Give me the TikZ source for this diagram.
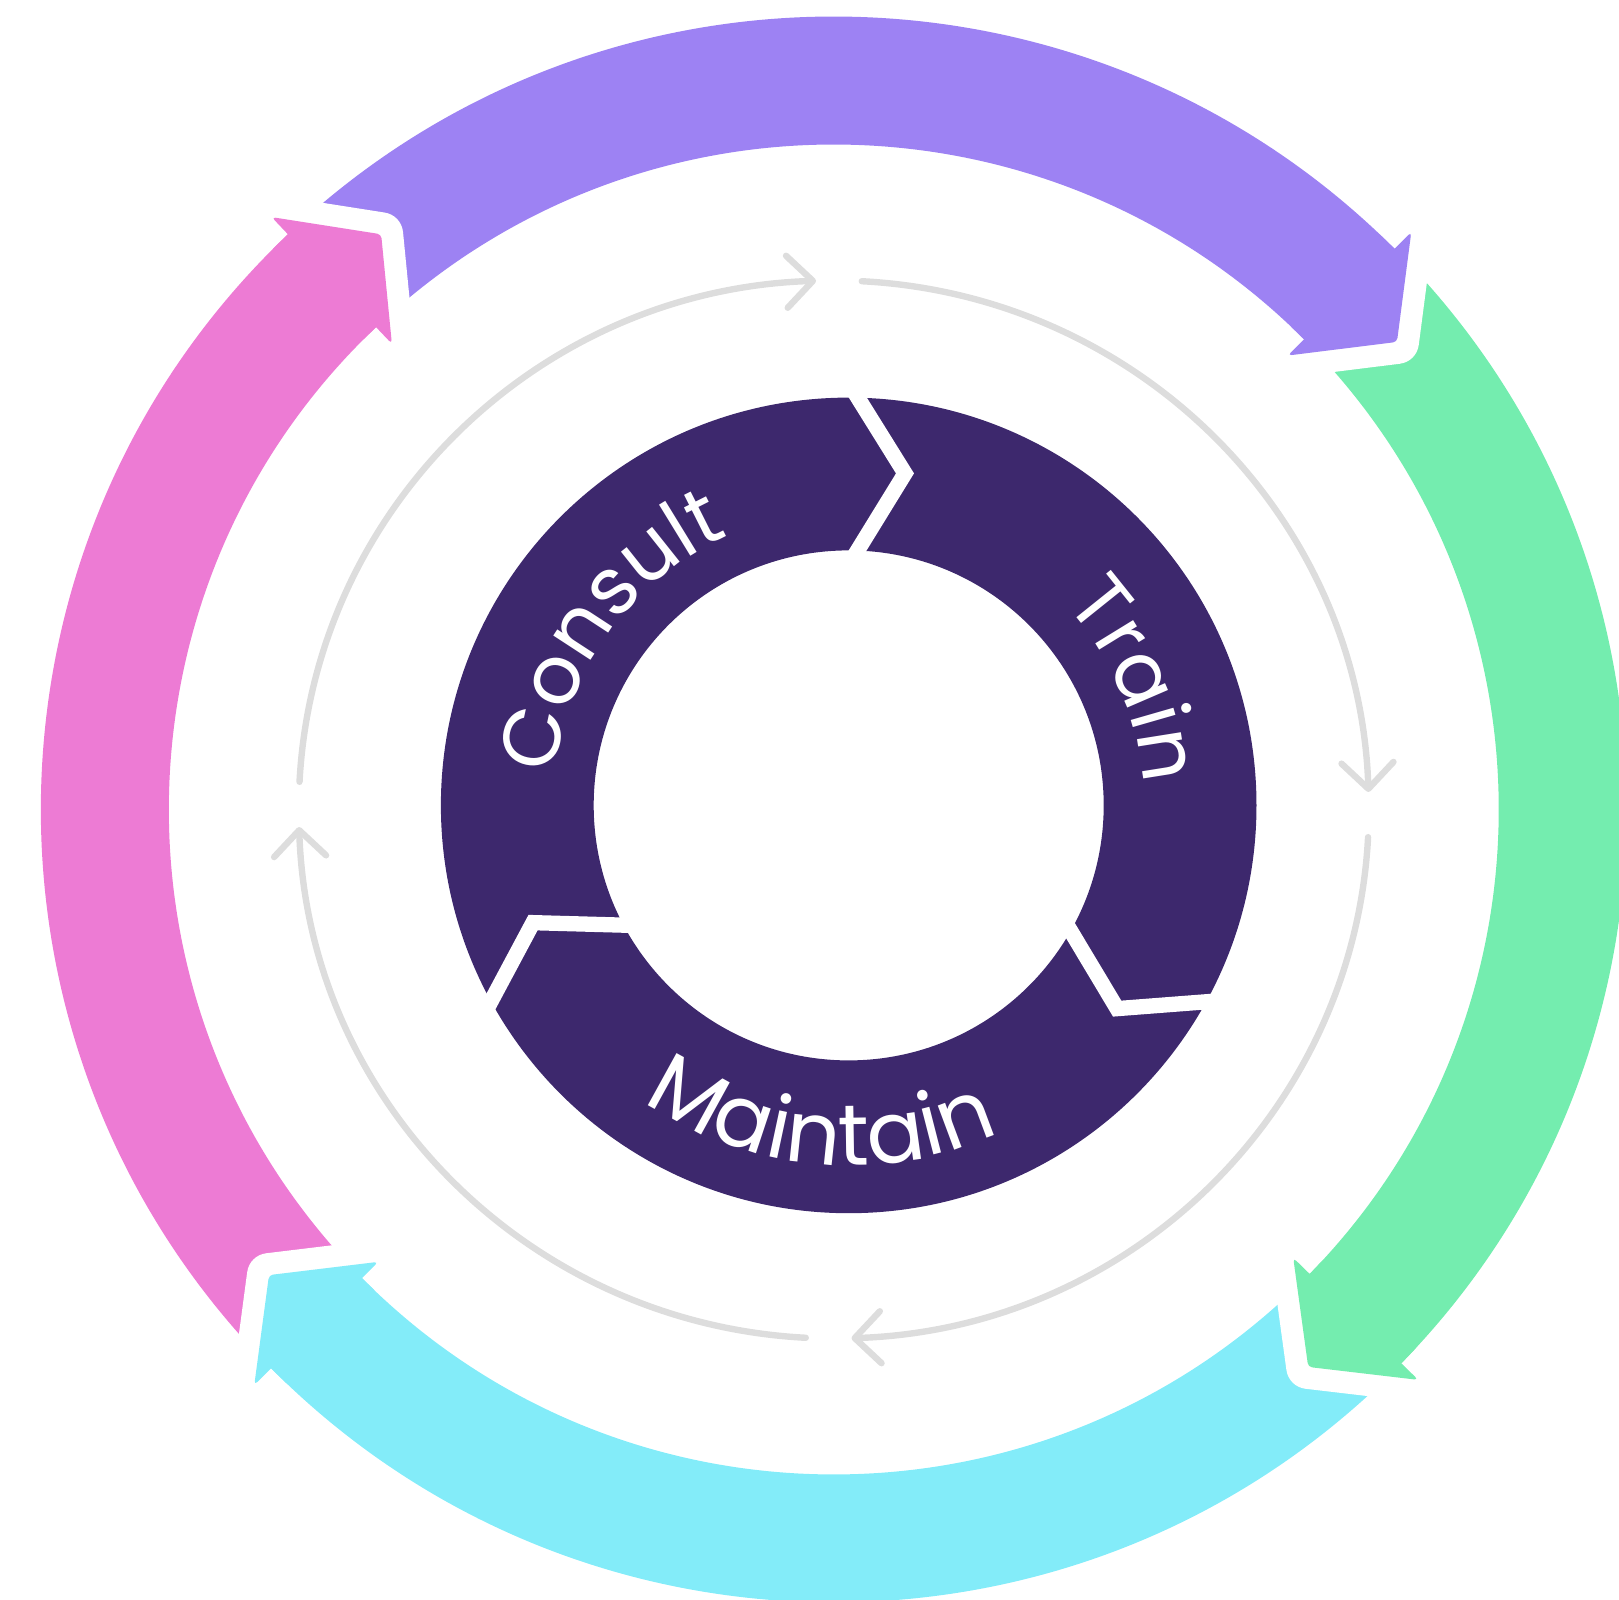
\documentclass[tikz,border=0pt]{standalone}
\usepackage{fontspec}
\setmainfont{Poppins}
\usetikzlibrary{arrows.meta,decorations.text}
\definecolor{arrowpurple}{HTML}{9D82F3}
\definecolor{arrowgreen}{HTML}{74EDAF}
\definecolor{arrowcyan}{HTML}{83ECF9}
\definecolor{arrowpink}{HTML}{ED7BD4}
\definecolor{ringpurple}{HTML}{3D286D}
\definecolor{linegray}{HTML}{DDDDDD}
\newcommand\ringfont{\fontsize{81}{96}\selectfont}
\newcommand\bottomfont{\fontsize{86}{100}\selectfont}
\tikzset{
  flowarc/.style={draw=linegray, line width=6.4pt, line cap=round, -{Straight Barb[length=26pt, width=52pt, round]}},
  ringtext/.style={decorate, decoration={text along path, text={|\ringfont|#1}, text align=center, text color=white}},
  bottomtext/.style={decorate, decoration={text along path, text={|\bottomfont|#1}, text align=center, text color=white}}
}
\begin{document}
\begin{tikzpicture}[x=1pt,y=1pt]
\clip (-833.8,-789.5) rectangle (785.2,809.5);
\coordinate (hub) at (0,0);
\coordinate (ring) at (14.9,4.1);
\foreach \col/\astart/\abase in {arrowpink/223.3/133.5, arrowpurple/132/45, arrowgreen/43.5/-44.3, arrowcyan/-45.8/-135.2}
  \fill[\col] (\astart:793) arc[start angle=\astart, end angle=\abase, radius=793] -- (\abase:665) arc[start angle=\abase, end angle=\astart, radius=665] -- cycle;
\foreach \col/\abase in {arrowpink/133.5, arrowpurple/45, arrowgreen/-44.3, arrowcyan/-135.2}
{
  \pgfmathsetmacro\atip{\abase-5.3}
  \pgfmathsetmacro\aend{\abase-60}
  \pgfmathsetmacro\aback{\abase+1.5}
  \begin{scope}
    \clip (hub) -- (\abase:1100) -- (\aend:1100) -- cycle;
    \draw[white, line width=44pt, line join=round, line cap=round] (\abase:816.7) -- (\atip:732) -- (\abase:642);
  \end{scope}
  \fill[\col] (\aback:793) -- (\abase:793) [rounded corners=4pt] -- (\abase:816.7) -- (\atip:732) -- (\abase:642) [sharp corners] -- (\abase:665) -- (\aback:665) -- cycle;
}
\foreach \c in {180,90,0,-90}
{
  \pgfmathsetmacro\afrom{\c-3}
  \pgfmathsetmacro\aupto{\c-88.1}
  \draw[flowarc] (\afrom:535 and 529) arc[start angle=\afrom, end angle=\aupto, x radius=535, y radius=529];
}
\begin{scope}[shift={(ring)}]
  \fill[ringpurple, even odd rule] (0,0) circle[radius=407.8] (0,0) circle[radius=255];
  \foreach \th in {90,-27.5,210}
    \draw[white, line width=15.3pt, line join=miter, rotate=\th-90] (-1.6,425) -- (56.3,332) -- (-1.5,238);
  \path[ringtext=Consult] (202:295) arc[start angle=202, end angle=86, radius=295];
  \path[ringtext=Train] (81.5:295) arc[start angle=81.5, end angle=-34.5, radius=295];
  \path[bottomtext=Maintain] (-155:360) arc[start angle=-155, end angle=-35, radius=360];
\end{scope}
\end{tikzpicture}
\end{document}
